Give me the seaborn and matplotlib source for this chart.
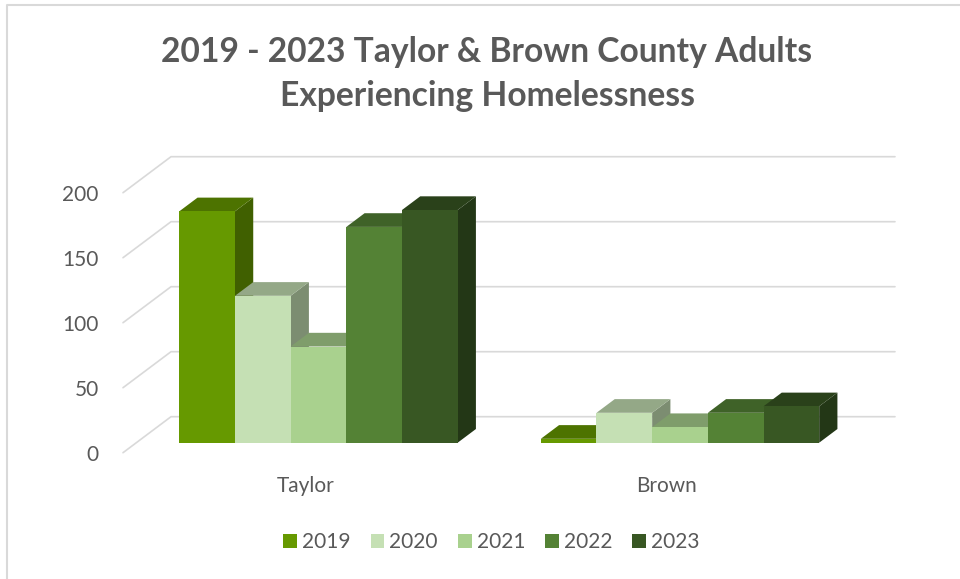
import numpy as np
import pandas as pd
import seaborn as sns
import matplotlib.pyplot as plt
import matplotlib.colors as mcolors
from matplotlib.patches import Polygon, Rectangle
from matplotlib.lines import Line2D

# ---- data ----
counties = ["Taylor", "Brown"]
years = ["2019", "2020", "2021", "2022", "2023"]
taylor_adults = [178, 113, 74, 166, 179]
brown_adults = [3, 23, 12, 23, 28]
year_colors = ["#669900", "#C5E0B4", "#A9D18E", "#548235", "#385723"]
y_ticks = [0, 50, 100, 150, 200]
title = "2019 - 2023 Taylor & Brown County Adults\nExperiencing Homelessness"

df = pd.DataFrame({
    "County": np.repeat(counties, len(years)),
    "Year": years * len(counties),
    "Adults": taylor_adults + brown_adults,
})

# ---- style ----
sns.set_theme(style="white")
plt.rcParams["font.family"] = ["Lato", "DejaVu Sans"]
TEXT = "#595959"
GRID = "#D9D9D9"

W, H = 960, 579
fig = plt.figure(figsize=(W / 100, H / 100), dpi=100)
fig.patch.set_facecolor("white")

# pixel geometry of the pseudo-3D frame (pixels from the top-left corner)
X0_PX, X_SCALE = 318.5, 361.5      # pixel of category 0, pixels per category step
Y0_PX, Y_SCALE = 442.7, 1.3        # pixel of value 0 on the bar plane, pixels per unit
DEPTH_PX = (48.0, 36.0)            # floor depth vector (front edge -> back wall)
T_BAR = 10.0 / 36.0                # depth fraction of the bar front plane
T_BAR_DEPTH = 0.38                 # bar thickness as a depth fraction

AX_L, AX_R, AX_T, AX_B = 100, 910, 137.2, 462.2


def to_data(px, py):
    return (px - X0_PX) / X_SCALE, (Y0_PX - py) / Y_SCALE


ax = fig.add_axes([AX_L / W, 1 - AX_B / H, (AX_R - AX_L) / W, (AX_B - AX_T) / H])
x_lo, y_lo = to_data(AX_L, AX_B)
x_hi, y_hi = to_data(AX_R, AX_T)

# ---- bars (front faces) ----
sns.barplot(data=df, x="County", y="Adults", hue="Year", hue_order=years,
            order=counties, palette=year_colors, saturation=1, width=0.77,
            linewidth=0, ax=ax, legend=False)
ax.set_xlim(x_lo, x_hi)
ax.set_ylim(y_lo, y_hi)

# ---- walls: gridlines on the back wall and on the left wall ----
FRONT_LEFT_PX, BACK_RIGHT_PX = 123.0, 895.0
FLOOR_FRONT_PX = Y0_PX + DEPTH_PX[1] * T_BAR
for v in y_ticks:
    fy = FLOOR_FRONT_PX - Y_SCALE * v
    bx, by = FRONT_LEFT_PX + DEPTH_PX[0], fy - DEPTH_PX[1]
    p_front = to_data(FRONT_LEFT_PX, fy)
    p_back = to_data(bx, by)
    p_right = to_data(BACK_RIGHT_PX, by)
    ax.add_line(Line2D([p_front[0], p_back[0], p_right[0]],
                       [p_front[1], p_back[1], p_right[1]],
                       color=GRID, lw=1.2, zorder=0.5, solid_joinstyle="miter"))

# ---- 3D top and side faces ----
ddx = DEPTH_PX[0] * T_BAR_DEPTH / X_SCALE
ddy = DEPTH_PX[1] * T_BAR_DEPTH / Y_SCALE
bars = sorted(ax.patches, key=lambda p: p.get_x())
for k, p in enumerate(bars):
    x0, w, h = p.get_x(), p.get_width(), p.get_height()
    rgb = np.array(mcolors.to_rgb(p.get_facecolor()))
    top_c, side_c = rgb * 0.75, rgb * 0.63
    base_z = 2 + 3 * k
    side = Polygon([(x0 + w, 0), (x0 + w + ddx, ddy), (x0 + w + ddx, h + ddy), (x0 + w, h)],
                   closed=True, facecolor=side_c, edgecolor="none", zorder=base_z)
    top = Polygon([(x0, h), (x0 + w, h), (x0 + w + ddx, h + ddy), (x0 + ddx, h + ddy)],
                  closed=True, facecolor=top_c, edgecolor="none", zorder=base_z + 0.5)
    ax.add_patch(side)
    ax.add_patch(top)
    p.set_zorder(base_z + 1)

# ---- axes text ----
front_shift = (FLOOR_FRONT_PX - Y0_PX) / Y_SCALE
ax.set_yticks([v - front_shift for v in y_ticks], labels=[str(v) for v in y_ticks])
label_shift = DEPTH_PX[0] * T_BAR / X_SCALE
ax.set_xticks([i - label_shift for i in range(len(counties))], labels=counties)
ax.tick_params(axis="y", length=0, pad=1, labelsize=15, labelcolor=TEXT)
ax.tick_params(axis="x", length=0, pad=10, labelsize=15, labelcolor=TEXT)
ax.set_xlabel("")
ax.set_ylabel("")
for s in ax.spines.values():
    s.set_visible(False)
ax.patch.set_alpha(0)

# ---- title ----
fig.text(487 / W, 1 - 74 / H, title, ha="center", va="center", fontsize=24.2,
         fontweight="bold", color=TEXT, linespacing=1.48)

# ---- legend ----
handles = [Rectangle((0, 0), 1, 1, facecolor=c, edgecolor="none") for c in year_colors]
fig.legend(handles, years, loc="center", bbox_to_anchor=(491.5 / W, 1 - 542 / H),
           ncol=len(years), frameon=False, fontsize=15, labelcolor=TEXT,
           handlelength=0.66, handleheight=0.66, handletextpad=0.25, columnspacing=0.95)

# ---- chart border ----
fig.add_artist(Line2D([7 / W, 7 / W, 1.0], [0.0, 1 - 5 / H, 1 - 5 / H],
                      transform=fig.transFigure, color=GRID, lw=1.5))

fig.savefig("out.png", dpi=100, facecolor="white")
